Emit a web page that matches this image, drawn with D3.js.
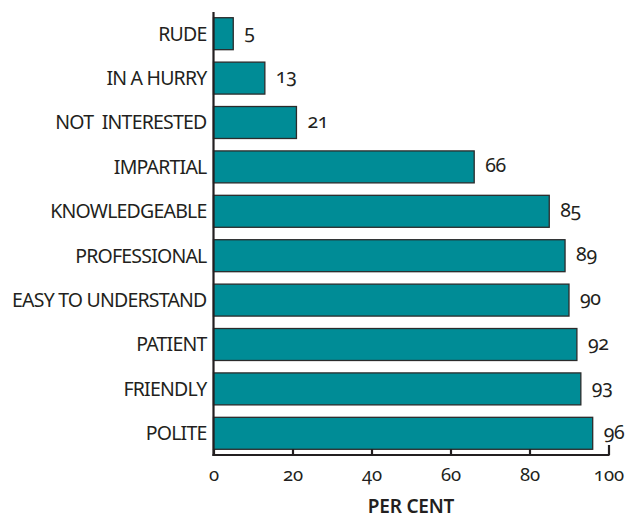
<!DOCTYPE html>
<html>
<head>
<meta charset="utf-8">
<script src="https://cdn.jsdelivr.net/npm/d3@7"></script>
<style>
  html, body { margin: 0; padding: 0; background: #fff; }
  svg text { font-family: "Noto Sans", sans-serif; fill: #231f20; }
  .num { font-variant-numeric: oldstyle-nums; font-feature-settings: "onum" 1; }
</style>
</head>
<body>
<svg id="chart" width="625" height="520"></svg>
<script>
// Share of respondents describing staff with each attribute (per cent)
const attributes = ["RUDE", "IN A HURRY", "NOT  INTERESTED", "IMPARTIAL", "KNOWLEDGEABLE",
  "PROFESSIONAL", "EASY TO UNDERSTAND", "PATIENT", "FRIENDLY", "POLITE"];
const percents = [5, 13, 21, 66, 85, 89, 90, 92, 93, 96];
const tickValues = [0, 20, 40, 60, 80, 100];
const axisTitle = "PER CENT";

const svg = d3.select("#chart");
const plotLeft = 213.5, plotRight = 608.5, plotTop = 11, plotBottom = 455;

const x = d3.scaleLinear().domain([0, 100]).range([plotLeft, plotRight]);
const y = d3.scaleBand().domain(attributes).range([plotTop, plotBottom])
  .paddingInner(0.28).paddingOuter(0.14);

// bars
svg.append("g").selectAll("rect").data(percents).join("rect")
  .attr("x", x(0))
  .attr("y", (d, i) => y(attributes[i]) + 0.5)
  .attr("width", d => x(d) - x(0))
  .attr("height", y.bandwidth())
  .attr("fill", "#008c96")
  .attr("stroke", "#2b2b2b")
  .attr("stroke-width", 1.3);

// value labels
svg.append("g").selectAll("text").data(percents).join("text")
  .attr("class", "num")
  .attr("x", d => x(d) + 11)
  .attr("y", (d, i) => y(attributes[i]) + y.bandwidth() / 2)
  .attr("dy", "0.3em")
  .attr("font-size", 19.5)
  .attr("letter-spacing", -0.3)
  .text(d => d);

// category labels
svg.append("g").selectAll("text").data(attributes).join("text")
  .attr("x", plotLeft - 7)
  .attr("y", d => y(d) + y.bandwidth() / 2)
  .attr("dy", "0.38em")
  .attr("text-anchor", "end")
  .attr("font-size", 19.5)
  .attr("letter-spacing", -0.8)
  .style("white-space", "pre")
  .text(d => d);

// vertical axis line
svg.append("line")
  .attr("x1", plotLeft).attr("x2", plotLeft)
  .attr("y1", plotTop + 1).attr("y2", plotBottom + 1)
  .attr("stroke", "#231f20").attr("stroke-width", 2.2);

// bottom axis
const xAxis = d3.axisBottom(x).tickValues(tickValues).tickSize(-6).tickPadding(13)
  .tickFormat(d3.format("d"));
const gx = svg.append("g").attr("transform", `translate(0,${plotBottom})`).call(xAxis);
gx.select(".domain").remove();
gx.append("line").attr("x1", plotLeft - 1).attr("x2", plotRight + 1)
  .attr("stroke", "#231f20").attr("stroke-width", 2.2);
gx.selectAll(".tick line").attr("stroke", "#231f20").attr("stroke-width", 2.2)
  .attr("y2", d => d === 100 ? -10 : -6);
gx.selectAll(".tick text").attr("class", "num").attr("font-size", 18.5)
  .attr("font-family", null).style("fill", "#231f20");

// axis title
svg.append("text")
  .attr("x", (plotLeft + plotRight) / 2)
  .attr("y", 513)
  .attr("text-anchor", "middle")
  .attr("font-size", 19)
  .attr("font-weight", 600)
  .attr("letter-spacing", -0.2)
  .text(axisTitle);
</script>
</body>
</html>
